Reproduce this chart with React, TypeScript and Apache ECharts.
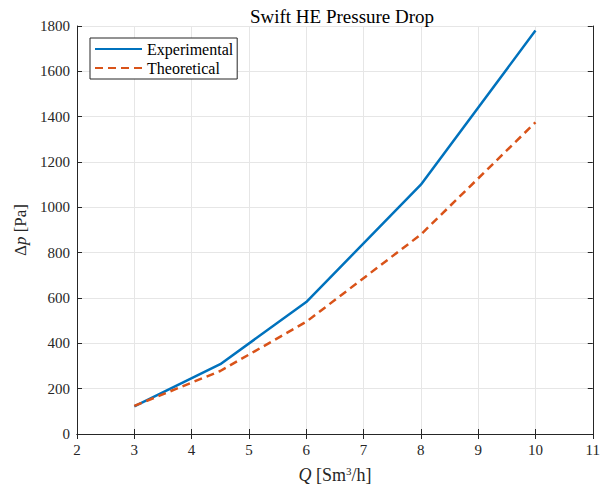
import React, { useEffect, useRef } from "react";
import * as echarts from "echarts";

const flowQ = [3, 4.5, 6, 8, 10];
const experimental = [122, 308, 582, 1100, 1780];
const theoretical = [124, 278, 495, 880, 1375];
const xTicks = [2, 3, 4, 5, 6, 7, 8, 9, 10, 11];
const yTicks = [0, 200, 400, 600, 800, 1000, 1200, 1400, 1600, 1800];

const FONT = "'Liberation Serif', 'DejaVu Serif', serif";
const AX = "#262626";

export default function App() {
  const ref = useRef<HTMLDivElement>(null);
  useEffect(() => {
    if (!ref.current) return;
    const chart = echarts.init(ref.current, undefined, { renderer: "svg" });
    const expData = flowQ.map((q, i) => [q, experimental[i]]);
    const thData = flowQ.map((q, i) => [q, theoretical[i]]);
    const xmin = xTicks[0], xmax = xTicks[xTicks.length - 1];
    const ymin = yTicks[0], ymax = yTicks[yTicks.length - 1];
    const baseAxisLine = { show: true, lineStyle: { color: AX, width: 1 } };
    chart.setOption({
      animation: false,
      backgroundColor: "#ffffff",
      textStyle: { fontFamily: FONT },
      title: {
        text: "Swift HE Pressure Drop",
        left: 337,
        textAlign: "center",
        top: 2,
        textStyle: { fontFamily: FONT, fontSize: 19, fontWeight: "normal", color: "#000" },
      },
      grid: { left: 77, right: 8, top: 26, bottom: 54, containLabel: false },
      legend: {
        orient: "vertical",
        left: 90,
        top: 38,
        padding: [3, 4, 3, 4],
        itemGap: 3,
        itemWidth: 47,
        itemHeight: 14,
        borderColor: AX,
        borderWidth: 1,
        borderRadius: 0,
        backgroundColor: "#ffffff",
        itemStyle: { opacity: 0 },
        textStyle: { fontFamily: FONT, fontSize: 16, color: "#000" },
        data: ["Experimental", "Theoretical"],
      },
      xAxis: [
        {
          type: "value",
          min: xmin,
          max: xmax,
          interval: 1,
          axisLine: baseAxisLine,
          axisTick: { show: true, inside: true, length: 5, lineStyle: { color: AX } },
          axisLabel: { fontFamily: FONT, fontSize: 15, color: AX, margin: 8 },
          splitLine: { show: true, lineStyle: { color: "#e6e6e6", width: 1 } },
          name: "{i|Q} [Sm{sup|3}/h]",
          nameLocation: "middle",
          nameGap: 31,
          nameTextStyle: {
            fontFamily: FONT,
            fontSize: 18,
            color: AX,
            rich: {
              i: { fontFamily: FONT, fontSize: 18, fontStyle: "italic", color: AX },
              sup: { fontFamily: FONT, fontSize: 11, color: AX, padding: [0, 0, 9, 0] },
            },
          },
        },
        {
          type: "value",
          position: "top",
          min: xmin,
          max: xmax,
          interval: 1,
          axisLine: baseAxisLine,
          axisTick: { show: true, inside: true, length: 5, lineStyle: { color: AX } },
          axisLabel: { show: false },
          splitLine: { show: false },
        },
      ],
      yAxis: [
        {
          type: "value",
          min: ymin,
          max: ymax,
          interval: 200,
          axisLine: baseAxisLine,
          axisTick: { show: true, inside: true, length: 5, lineStyle: { color: AX } },
          axisLabel: { fontFamily: FONT, fontSize: 15, color: AX, margin: 7, formatter: (v: number) => String(v) },
          splitLine: { show: true, lineStyle: { color: "#e6e6e6", width: 1 } },
          name: "Δ{i|p} [Pa]",
          nameLocation: "middle",
          nameGap: 47,
          nameTextStyle: {
            fontFamily: FONT,
            fontSize: 17,
            color: AX,
            rich: { i: { fontFamily: FONT, fontSize: 17, fontStyle: "italic", color: AX } },
          },
        },
        {
          type: "value",
          position: "right",
          min: ymin,
          max: ymax,
          interval: 200,
          axisLine: baseAxisLine,
          axisTick: { show: true, inside: true, length: 5, lineStyle: { color: AX } },
          axisLabel: { show: false },
          splitLine: { show: false },
        },
      ],
      series: [
        {
          name: "Experimental",
          type: "line",
          xAxisIndex: 0,
          yAxisIndex: 0,
          data: expData,
          symbol: "none",
          lineStyle: { color: "#0072BD", width: 2.5 },
          itemStyle: { color: "#0072BD" },
        },
        {
          name: "Theoretical",
          type: "line",
          xAxisIndex: 0,
          yAxisIndex: 0,
          data: thData,
          symbol: "none",
          lineStyle: { color: "#D95319", width: 2.5, type: [8, 5] },
          itemStyle: { color: "#D95319" },
        },
      ],
    });
    return () => chart.dispose();
  }, []);
  return <div ref={ref} style={{ width: 603, height: 489, position: "absolute", left: 0, top: 0 }} />;
}
